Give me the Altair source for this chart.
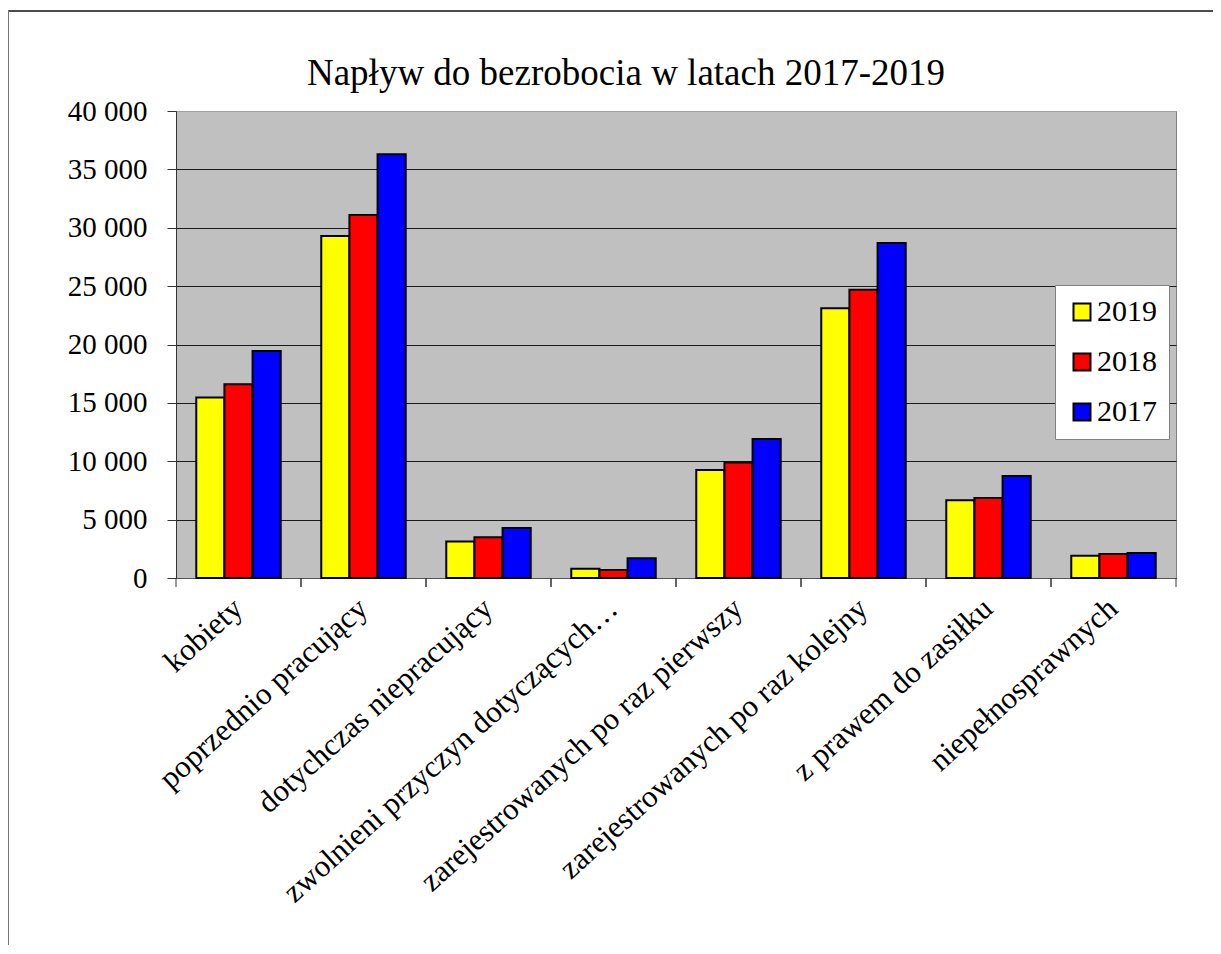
import altair as alt
import pandas as pd

categories = [
    "kobiety",
    "poprzednio pracujący",
    "dotychczas niepracujący",
    "zwolnieni przyczyn dotyczących…",
    "zarejestrowanych po raz pierwszy",
    "zarejestrowanych po raz kolejny",
    "z prawem do zasiłku",
    "niepełnosprawnych",
]
years = ["2019", "2018", "2017"]
v2019 = [15450, 29300, 3130, 800, 9250, 23100, 6650, 1900]
v2018 = [16600, 31100, 3480, 680, 9900, 24700, 6850, 2050]
v2017 = [19450, 36300, 4280, 1700, 11900, 28700, 8730, 2140]
colors = ["#FFFF00", "#FF0000", "#0000FF"]
y_ticks = list(range(0, 40001, 5000))
title_text = "Napływ do bezrobocia w latach 2017-2019"

rows = []
for yr, vals in zip(years, [v2019, v2018, v2017]):
    for c, v in zip(categories, vals):
        rows.append({"kategoria": c, "rok": yr, "wartosc": v})
df = pd.DataFrame(rows)
cat_df = pd.DataFrame({"kategoria": categories})
one = pd.DataFrame({"k": [0]})

FONT = "Liberation Serif"
W, H = 1000, 467

bars = alt.Chart(df).mark_bar(stroke="black", strokeWidth=2).encode(
    x=alt.X(
        "kategoria:N",
        sort=categories,
        scale=alt.Scale(domain=categories, paddingInner=0, paddingOuter=0),
        axis=alt.Axis(
            title=None, labelAngle=-42, labelAlign="right", labelBaseline="middle",
            labelFont=FONT, labelFontSize=31, labelColor="black", labelPadding=26,
            labelLimit=0, ticks=False, domain=True, domainColor="#555555",
        ),
    ),
    xOffset=alt.XOffset(
        "rok:N", sort=years,
        scale=alt.Scale(domain=years, paddingInner=0, paddingOuter=0.72),
    ),
    y=alt.Y(
        "wartosc:Q",
        scale=alt.Scale(domain=[0, 40000], nice=False),
        axis=alt.Axis(
            title=None, values=y_ticks,
            labelExpr="replace(format(datum.value, ','), ',', ' ')",
            labelFont=FONT, labelFontSize=29, labelColor="black", labelPadding=20,
            tickSize=9, tickColor="#333333", domainColor="#333333",
            grid=True,
            gridColor={"condition": {"test": "datum.value >= 40000", "value": "#a0a0a0"}, "value": "#1a1a1a"},
            gridWidth=1,
        ),
    ),
    color=alt.Color(
        "rok:N", sort=years,
        scale=alt.Scale(domain=years, range=colors),
        legend=alt.Legend(
            title=None, orient="none", legendX=879, legendY=174, direction="vertical",
            symbolType="square", symbolSize=289, symbolStrokeColor="black",
            symbolStrokeWidth=2, symbolOpacity=1,
            labelFont=FONT, labelFontSize=30, labelColor="black", labelOffset=0,
            fillColor="white", strokeColor="#808080", padding=12, rowPadding=20,
        ),
    ),
)

ticks_left = alt.Chart(cat_df).mark_rule(color="#333333", strokeWidth=1).encode(
    x=alt.X("kategoria:N", sort=categories, bandPosition=0),
    y=alt.value(H), y2=alt.value(H + 9),
)
ticks_right = alt.Chart(cat_df).mark_rule(color="#333333", strokeWidth=1).encode(
    x=alt.X("kategoria:N", sort=categories, bandPosition=1),
    y=alt.value(H), y2=alt.value(H + 9),
)

frame_top = alt.Chart(one).mark_rule(color="#111111", strokeWidth=1.5).encode(
    x=alt.value(-168), x2=alt.value(1040), y=alt.value(-100)
)
frame_left = alt.Chart(one).mark_rule(color="#777777", strokeWidth=2).encode(
    x=alt.value(-168), y=alt.value(-101), y2=alt.value(H + 420)
)

chart = alt.layer(frame_top, frame_left, bars, ticks_left, ticks_right).properties(
    width=W, height=H,
    autosize=alt.AutoSizeParams(type="none"),
    padding={"left": 168, "top": 103, "right": 37, "bottom": 367},
    background="white",
    title=alt.TitleParams(
        title_text, font=FONT, fontSize=37, fontWeight="normal", color="black",
        anchor="middle", frame="group", dx=-50, offset=-84,
    ),
).configure_view(fill="#C0C0C0", stroke="#808080", strokeWidth=1)

chart.save("out.html", embed_options={"renderer": "svg", "actions": False})
